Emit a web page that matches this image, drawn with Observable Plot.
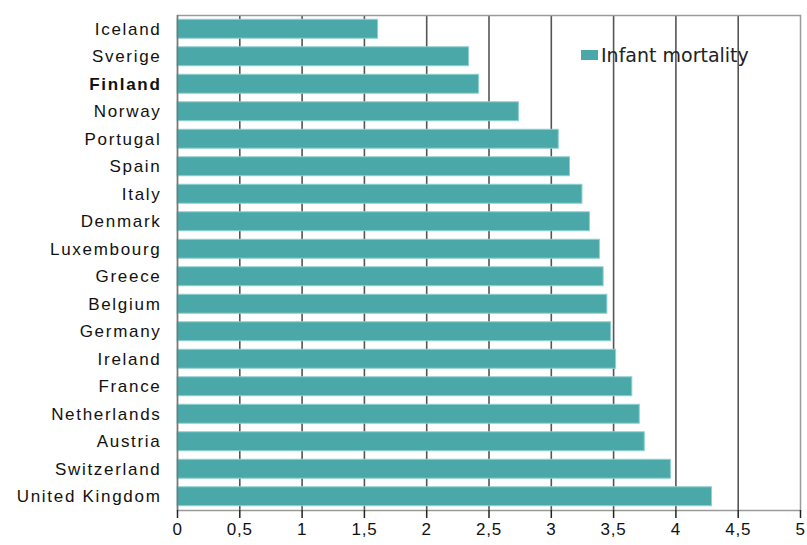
<!DOCTYPE html>
<html>
<head>
<meta charset="utf-8">
<script src="https://cdn.jsdelivr.net/npm/d3@7"></script>
<script src="https://cdn.jsdelivr.net/npm/@observablehq/plot@0.6"></script>
<style>
  html, body { margin: 0; padding: 0; background: #fff; }
  #wrap { position: relative; width: 807px; height: 545px; overflow: hidden; }
  #wrap svg g[aria-label="text"] text { letter-spacing: 1.7px; }
  #wrap svg g[aria-label="x-axis tick label"] text { letter-spacing: 0.8px; }
  #legend { position: absolute; left: 581px; top: 44px; display: flex; align-items: center;
    font-family: "DejaVu Sans", Verdana, sans-serif; font-size: 19px; color: #222; }
  #legend .sw { width: 17px; height: 10px; background: #4aa8a8; margin-right: 3px; }
</style>
</head>
<body>
<div id="wrap"><div id="legend"><div class="sw"></div><span>Infant mortality</span></div></div>
<script>
const countries = ["Iceland","Sverige","Finland","Norway","Portugal","Spain","Italy","Denmark","Luxembourg","Greece","Belgium","Germany","Ireland","France","Netherlands","Austria","Switzerland","United Kingdom"];
const mortality = [1.61,2.34,2.42,2.74,3.06,3.15,3.25,3.31,3.39,3.42,3.45,3.48,3.52,3.65,3.71,3.75,3.96,4.29];
const xTicks = [0,0.5,1,1.5,2,2.5,3,3.5,4,4.5,5];
const seriesName = "Infant mortality";
const highlight = "Finland";

const data = countries.map((c, i) => ({country: c, value: mortality[i]}));
const labelFont = '"Liberation Sans", Arial, sans-serif';

const chart = Plot.plot({
  width: 807,
  height: 545,
  marginLeft: 177,
  marginRight: 7,
  marginTop: 15,
  marginBottom: 35,
  style: {fontFamily: labelFont, fontSize: "17px", color: "#111", background: "#fff"},
  x: {domain: [0, 5], label: null},
  y: {domain: countries, paddingInner: 0.31, paddingOuter: 0.155, round: false, label: null, axis: null},
  marks: [
    Plot.ruleX(xTicks.filter(t => t > 0 && t < 5), {stroke: "#555", strokeWidth: 1.6}),
    Plot.frame({stroke: "#9a9a9a", strokeWidth: 1.5}),
    Plot.barX(data, {x: "value", y: "country", fill: "#4aa8a8", stroke: "#8fd0d0", strokeWidth: 1}),
    Plot.ruleX([0], {stroke: "#777", strokeWidth: 1.5}),
    Plot.axisX({ticks: xTicks, tickSize: 8, tickPadding: 4, stroke: "#222", strokeWidth: 1.5,
      tickFormat: d => String(d).replace(".", ","), fontSize: 17}),
    Plot.text(data.filter(d => d.country !== highlight), {x: 0, y: "country", text: "country",
      textAnchor: "end", dx: -16, fill: "#111", fontSize: 17}),
    Plot.text(data.filter(d => d.country === highlight), {x: 0, y: "country", text: "country",
      textAnchor: "end", dx: -16, fill: "#111", fontSize: 17, fontWeight: "bold"})
  ]
});
document.getElementById("wrap").prepend(chart);
document.querySelector("#legend span").textContent = seriesName;
</script>
</body>
</html>
